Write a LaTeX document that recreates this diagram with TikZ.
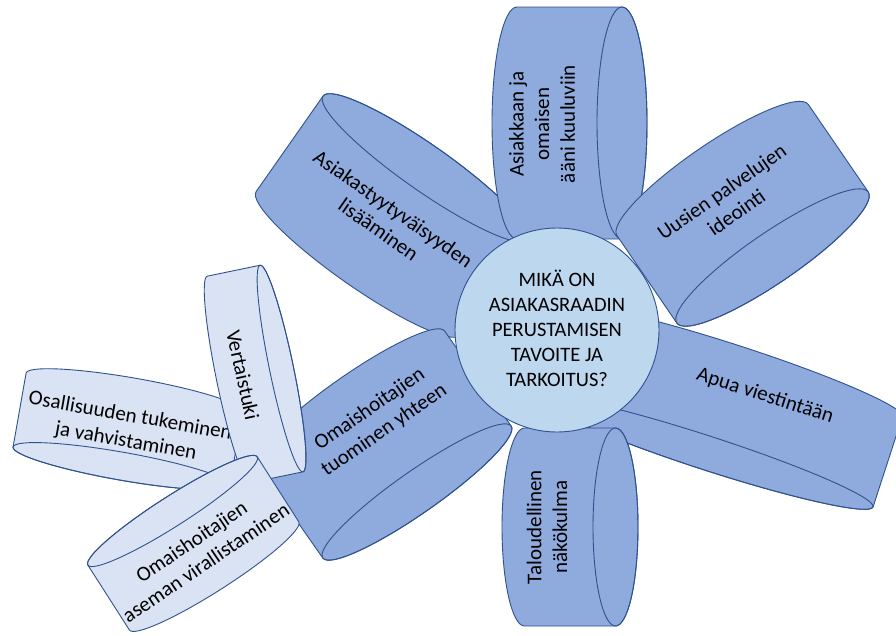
\documentclass[tikz,border=0pt]{standalone}
\usepackage{fontspec}
\setmainfont{Carlito}
\definecolor{petalfill}{HTML}{8FAADC}
\definecolor{leaffill}{HTML}{DAE3F3}
\definecolor{hubfill}{HTML}{BDD7EE}
\definecolor{edgeblue}{HTML}{2F528F}

% A "can": body along local y, cap ellipse at local top.
% #1,#2 centre (x right, y down), #3 rotation, #4 diameter, #5 length, #6 cap half-depth, #7 style
\newcommand{\canshape}[7]{%
  \begin{scope}[shift={(#1,-#2)},rotate=#3]
    \pgfmathsetmacro{\halfw}{#4/2}
    \pgfmathsetmacro{\capy}{#5/2-#6}
    \path[#7] (-\halfw,\capy) -- (-\halfw,-\capy)
      arc[start angle=180,end angle=360,x radius=\halfw,y radius=#6]
      -- (\halfw,\capy)
      arc[start angle=0,end angle=180,x radius=\halfw,y radius=#6] -- cycle;
    \draw[#7,fill=none] (0,\capy) ellipse[x radius=\halfw,y radius=#6];
  \end{scope}}

\tikzset{
  bigpetal/.style={draw=edgeblue,fill=petalfill,line width=0.9pt},
  smallpetal/.style={draw=edgeblue,fill=leaffill,line width=0.9pt},
  hub/.style={draw=edgeblue,fill=hubfill,line width=0.9pt},
  petaltext/.style={font=\fontsize{21}{25.6}\selectfont,align=center,inner sep=0pt,text=black},
  hubtext/.style={font=\fontsize{20.5}{25}\selectfont,align=center,inner sep=0pt,text=black}
}

\begin{document}
\begin{tikzpicture}[x=1pt,y=1pt]
\useasboundingbox (0,0) rectangle (896,-635);
\fill[white] (0,0) rectangle (896,-635);
\clip (0,0) rectangle (896,-635);

% upper-left petal
\canshape{392}{215.5}{-35}{250}{162.5}{23}{bigpetal}
\node[petaltext,rotate=-35] (tyytyvaisyys) at (386,-219) {Asiakastyytyväisyyden\\lisääminen};

% lower-left petal
\canshape{383.7}{444.5}{-145}{230}{158}{21}{bigpetal}
\node[petaltext,rotate=34.6] (yhteen) at (377,-420) {Omaishoitajien\\tuominen yhteen};

% right petal
\canshape{721.3}{407.7}{162}{350}{129}{17}{bigpetal}
\node[petaltext,rotate=-17.7] (viestinta) at (765,-396) {Apua viestintään};

% top petal
\canshape{569.5}{123}{-90}{232}{155}{25}{bigpetal}
\node[petaltext,rotate=90] (aani) at (542,-124) {Asiakkaan ja\\omaisen\\ääni kuuluviin};

% upper-right petal
\canshape{742.6}{213.8}{-145.6}{232}{156}{25}{bigpetal}
\node[petaltext,rotate=35] (ideointi) at (729,-202) {Uusien palvelujen\\ideointi};

% bottom petal
\canshape{570}{527}{-90}{198}{136}{22.5}{bigpetal}
\node[petaltext,rotate=90] (talous) at (547,-527) {Taloudellinen\\näkökulma};

% centre
\node[hub,circle,minimum size=204pt,inner sep=0pt] (hubcircle) at (557,-330) {};
\node[hubtext] (question) at (557,-328) {MIKÄ ON\\ASIAKASRAADIN\\PERUSTAMISEN\\TAVOITE JA\\TARKOITUS?};

% small side petals
\canshape{127.9}{429.2}{170}{220}{103}{14}{smallpetal}
\node[petaltext,rotate=-10] (osallisuus) at (128,-429) {Osallisuuden tukeminen\\ja vahvistaminen};

\canshape{255.1}{374}{-78.3}{211}{78}{12}{smallpetal}
\node[petaltext,rotate=-77.5] (vertais) at (243,-375) {Vertaistuki};

\canshape{193.3}{543.4}{32.6}{201}{107}{15}{smallpetal}
\node[petaltext,rotate=34] (asema) at (198.5,-552) {Omaishoitajien\\aseman virallistaminen};
\end{tikzpicture}
\end{document}
